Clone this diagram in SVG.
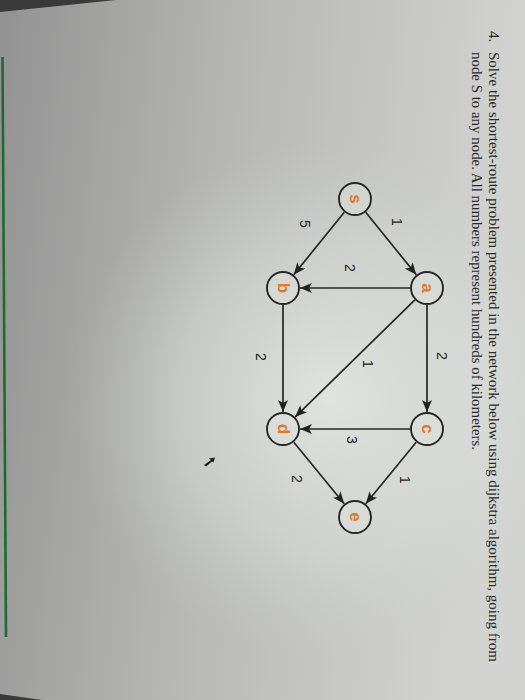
<svg xmlns="http://www.w3.org/2000/svg" width="525" height="700" viewBox="0 0 525 700">
  <defs>
    <linearGradient id="bg" x1="0" y1="0" x2="1" y2="0.15">
      <stop offset="0" stop-color="#929292"/>
      <stop offset="0.45" stop-color="#b6b7b5"/>
      <stop offset="1" stop-color="#d3d4d2"/>
    </linearGradient>
    <radialGradient id="glow" cx="330" cy="400" r="260" gradientUnits="userSpaceOnUse">
      <stop offset="0" stop-color="#e2e7e1" stop-opacity="0.9"/>
      <stop offset="0.6" stop-color="#dadfd9" stop-opacity="0.45"/>
      <stop offset="1" stop-color="#d0d2cf" stop-opacity="0"/>
    </radialGradient>
    <marker id="arrow" viewBox="0 0 12 10" markerWidth="12" markerHeight="10" refX="12" refY="5" orient="auto" markerUnits="userSpaceOnUse">
      <path d="M0,0 L12,5 L0,10 L3,5 z" fill="#222"/>
    </marker>
    <style>
      .edge { stroke: #262626; stroke-width: 1.7; fill: none; marker-end: url(#arrow); }
      .node circle { fill: #dde0dc; fill-opacity: 0.5; stroke: #262626; stroke-width: 1.9; }
      .node text { font-family: "Liberation Sans", Arial, sans-serif; font-size: 17px; font-weight: bold; fill: #e0792a; text-anchor: middle; dominant-baseline: central; }
      .elabel { font-family: "Liberation Sans", Arial, sans-serif; font-size: 14px; fill: #222; text-anchor: middle; dominant-baseline: central; }
      .para { font-family: "Liberation Serif", "Times New Roman", serif; font-size: 15px; fill: #2a2a2a; }
    </style>
  </defs>

  <rect x="0" y="0" width="525" height="700" fill="url(#bg)"/>
  <rect x="0" y="0" width="525" height="700" fill="url(#glow)"/>
  <polygon points="0,0 116,0 0,12" fill="#3a3a3a"/>
  <polygon points="0,694 42,700 0,700" fill="#3a3a3a"/>
  <line x1="2.5" y1="57" x2="6" y2="637" stroke="#1f6a2f" stroke-width="2.6"/>

  <g id="question">
    <text class="para" transform="translate(489,31) rotate(90)">4.</text>
    <text class="para" transform="translate(489,52) rotate(90)">Solve the shortest-route problem presented in the network below using dijkstra algorithm, going from</text>
    <text class="para" transform="translate(472,52) rotate(90)" textLength="398" lengthAdjust="spacingAndGlyphs">node S to any node. All numbers represent hundreds of kilometers.</text>
  </g>

  <g id="connectors">
    <line class="edge" x1="365.7" y1="212.2" x2="416.3" y2="274.8"/>
    <line class="edge" x1="344.3" y1="212.2" x2="293.7" y2="274.8"/>
    <line class="edge" x1="410" y1="288" x2="300" y2="288"/>
    <line class="edge" x1="427" y1="305" x2="427" y2="412"/>
    <line class="edge" x1="414.9" y1="299.9" x2="295.1" y2="417.1"/>
    <line class="edge" x1="283" y1="305" x2="283" y2="412"/>
    <line class="edge" x1="410" y1="429" x2="300" y2="429"/>
    <line class="edge" x1="416.2" y1="442.2" x2="365.8" y2="503.8"/>
    <line class="edge" x1="293.8" y1="442.2" x2="344.2" y2="503.8"/>
    <text class="elabel" transform="translate(397,222) rotate(90)">1</text>
    <text class="elabel" transform="translate(305,224) rotate(90)">5</text>
    <text class="elabel" transform="translate(350,268) rotate(90)">2</text>
    <text class="elabel" transform="translate(442,356) rotate(90)">2</text>
    <text class="elabel" transform="translate(368,364) rotate(90)">1</text>
    <text class="elabel" transform="translate(261,357) rotate(90)">2</text>
    <text class="elabel" transform="translate(352,440) rotate(90)">3</text>
    <text class="elabel" transform="translate(405,480) rotate(90)">1</text>
    <text class="elabel" transform="translate(297,479) rotate(90)">2</text>
  </g>

  <g id="node-s" class="node"><circle cx="355" cy="199" r="16"/><text transform="translate(355,199) rotate(90)">s</text></g>
  <g id="node-a" class="node"><circle cx="427" cy="288" r="16"/><text transform="translate(427,288) rotate(90)">a</text></g>
  <g id="node-b" class="node"><circle cx="283" cy="288" r="16"/><text transform="translate(283,288) rotate(90)">b</text></g>
  <g id="node-c" class="node"><circle cx="427" cy="429" r="16"/><text transform="translate(427,429) rotate(90)">c</text></g>
  <g id="node-d" class="node"><circle cx="283" cy="429" r="16"/><text transform="translate(283,429) rotate(90)">d</text></g>
  <g id="node-e" class="node"><circle cx="355" cy="517" r="16"/><text transform="translate(355,517) rotate(90)">e</text></g>

  <path d="M204,465 L211,460 L209,458.5 L215,457.5 L213.5,462.5 L212,461.5 L206,466.5 z" fill="#1a1a1a"/>
</svg>
